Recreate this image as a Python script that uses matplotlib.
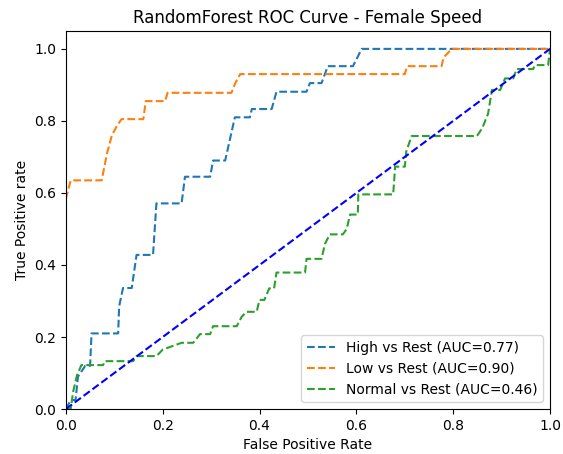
import matplotlib.pyplot as plt

# ROC points
high_fpr = [0, 0.01, 0.02, 0.025, 0.04, 0.05, 0.053, 0.108, 0.11, 0.118, 0.136, 0.146,
            0.18, 0.187, 0.239, 0.246, 0.298, 0.304, 0.329, 0.349, 0.38, 0.384, 0.425,
            0.435, 0.497, 0.504, 0.528, 0.541, 0.593, 0.611, 1.0]
high_tpr = [0, 0.025, 0.025, 0.09, 0.12, 0.12, 0.21, 0.21, 0.285, 0.336, 0.336, 0.428,
            0.428, 0.571, 0.571, 0.645, 0.645, 0.69, 0.69, 0.81, 0.81, 0.833, 0.833,
            0.881, 0.881, 0.905, 0.905, 0.952, 0.952, 1.0, 1.0]

low_fpr = [0, 0, 0.01, 0.074, 0.085, 0.095, 0.105, 0.115, 0.16, 0.165, 0.205, 0.21,
           0.342, 0.35, 0.36, 0.70, 0.705, 0.776, 0.78, 0.797, 1.0]
low_tpr = [0, 0.585, 0.635, 0.635, 0.71, 0.76, 0.785, 0.805, 0.805, 0.855, 0.855, 0.878,
           0.878, 0.905, 0.93, 0.93, 0.952, 0.952, 0.976, 1.0, 1.0]

normal_fpr = [0, 0.01, 0.015, 0.023, 0.032, 0.077, 0.08, 0.139, 0.146, 0.187, 0.2, 0.239,
              0.263, 0.277, 0.298, 0.304, 0.353, 0.363, 0.373, 0.394, 0.40, 0.41, 0.42,
              0.43, 0.435, 0.494, 0.497, 0.528, 0.535, 0.545, 0.572, 0.58, 0.587, 0.603,
              0.604, 0.676, 0.68, 0.70, 0.703, 0.714, 0.849, 0.86, 0.872, 0.88, 0.897,
              0.907, 0.924, 0.931, 0.965, 0.969, 0.996, 1.0]
normal_tpr = [0, 0.0, 0.048, 0.094, 0.122, 0.122, 0.133, 0.133, 0.147, 0.147, 0.165, 0.184,
              0.184, 0.208, 0.208, 0.23, 0.23, 0.256, 0.27, 0.27, 0.303, 0.303, 0.335,
              0.335, 0.379, 0.379, 0.417, 0.417, 0.458, 0.485, 0.485, 0.5, 0.54, 0.54,
              0.596, 0.596, 0.673, 0.673, 0.715, 0.758, 0.758, 0.78, 0.82, 0.886, 0.886,
              0.918, 0.918, 0.944, 0.944, 0.955, 0.955, 1.0]

labels = ["High vs Rest (AUC=0.77)", "Low vs Rest (AUC=0.90)", "Normal vs Rest (AUC=0.46)"]

fig = plt.figure(figsize=(5.63, 4.54), dpi=100)
ax = fig.add_axes([0.117, 0.099, 0.860, 0.833])

ax.plot(high_fpr, high_tpr, linestyle="--", label=labels[0])
ax.plot(low_fpr, low_tpr, linestyle="--", label=labels[1])
ax.plot(normal_fpr, normal_tpr, linestyle="--", label=labels[2])
ax.plot([0, 1], [0, 1], "b--")

ax.set_xlim(0, 1)
ax.set_ylim(0, 1.05)
ax.set_xlabel("False Positive Rate")
ax.set_ylabel("True Positive rate")
ax.set_title("RandomForest ROC Curve - Female Speed")
ax.legend(loc="lower right")

plt.savefig("out.png")
